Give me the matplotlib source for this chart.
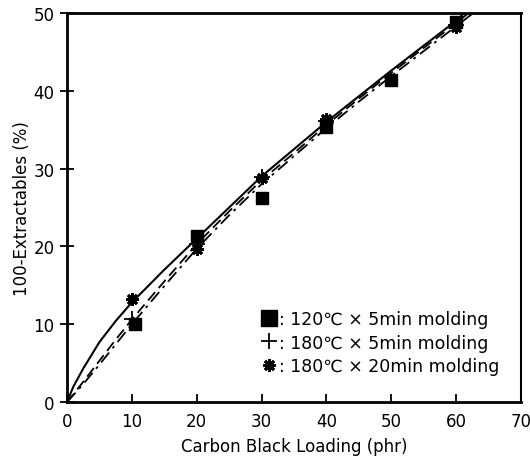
import numpy as np
import matplotlib.pyplot as plt
from matplotlib.lines import Line2D

# ----- Data -----
load_sq = [10.5, 20, 30, 40, 50, 60]
val_sq = [10.0, 21.3, 26.2, 35.3, 41.4, 48.8]

load_plus = [10, 20, 30, 40, 60]
val_plus = [10.7, 20.3, 28.9, 36.1, 48.5]

load_star = [10, 20, 30, 40, 60]
val_star = [13.3, 19.7, 28.8, 36.4, 48.2]

# fitted curves
curve_x = [0, 1, 2.5, 5, 7.5, 10, 15, 20, 25, 30, 35, 40, 45, 50, 55, 60, 62.5, 64]
curve_solid = [0, 2.0, 4.3, 7.7, 10.4, 12.8, 17.0, 21.0, 25.0, 29.0, 32.5, 36.0, 39.3, 42.6, 45.8, 49.0, 51.0, 52.0]
curve_dash = [0, 1.0, 2.6, 5.3, 8.0, 10.6, 15.5, 20.3, 24.5, 28.5, 32.0, 35.6, 39.0, 42.3, 45.5, 48.7, 50.4, 51.5]
curve_dashdot = [0, 0.9, 2.3, 4.8, 7.4, 10.0, 14.9, 19.7, 24.0, 28.0, 31.6, 35.2, 38.6, 41.9, 45.1, 48.3, 49.9, 51.0]

labels = [': 120\u2103 \u00d7 5min molding', ': 180\u2103 \u00d7 5min molding', ': 180\u2103 \u00d7 20min molding']
xticks = [0, 10, 20, 30, 40, 50, 60, 70]
yticks = [0, 10, 20, 30, 40, 50]

# ----- Plot -----
fig = plt.figure(figsize=(5.3, 4.6), dpi=100)
ax = fig.add_axes([0.1264, 0.1239, 0.8566, 0.8457])

ax.plot(curve_x, curve_solid, '-', color='black', lw=1.5)
ax.plot(curve_x, curve_dash, color='black', lw=1.3, dashes=(6, 3))
ax.plot(curve_x, curve_dashdot, color='black', lw=1.3, dashes=(7, 3, 1.5, 3))

star = (8, 2, 0)
ax.plot(load_sq, val_sq, 's', color='black', ms=8, ls='none')
ax.plot(load_plus, val_plus, '+', color='black', ms=11, mew=1.3, ls='none')
ax.plot(load_star, val_star, marker=star, color='black', ms=9, mew=2.0, ls='none')

ax.set_xlim(0, 70)
ax.set_ylim(0, 50)
ax.set_xticks(xticks)
ax.set_yticks(yticks)

tick_font = ['Liberation Sans Narrow', 'DejaVu Sans']
for lab in ax.get_xticklabels() + ax.get_yticklabels():
    lab.set_family(tick_font)
    lab.set_fontsize(12)
ax.tick_params(axis='x', direction='in', length=6, width=1.3, pad=7)
ax.tick_params(axis='y', direction='inout', length=10, width=1.3, pad=4)

for side in ['left', 'bottom', 'top']:
    ax.spines[side].set_linewidth(2.0)
ax.spines['right'].set_linewidth(1.5)

ax.set_xlabel('Carbon Black Loading (phr)', fontsize=12, labelpad=5)
ax.set_ylabel('100-Extractables (%)', fontsize=12, labelpad=2)

handles = [Line2D([], [], marker='s', color='black', ls='none', ms=11),
           Line2D([], [], marker='+', color='black', ls='none', ms=11, mew=1.3),
           Line2D([], [], marker=star, color='black', ls='none', ms=9, mew=2.0)]
ax.legend(handles, labels, loc='lower right', bbox_to_anchor=(0.953, 0.07), frameon=False,
          fontsize=12.5, handlelength=0.8, handletextpad=0.2, labelspacing=0.3,
          borderaxespad=0.0, borderpad=0.0)

fig.savefig('out.png', dpi=100)
